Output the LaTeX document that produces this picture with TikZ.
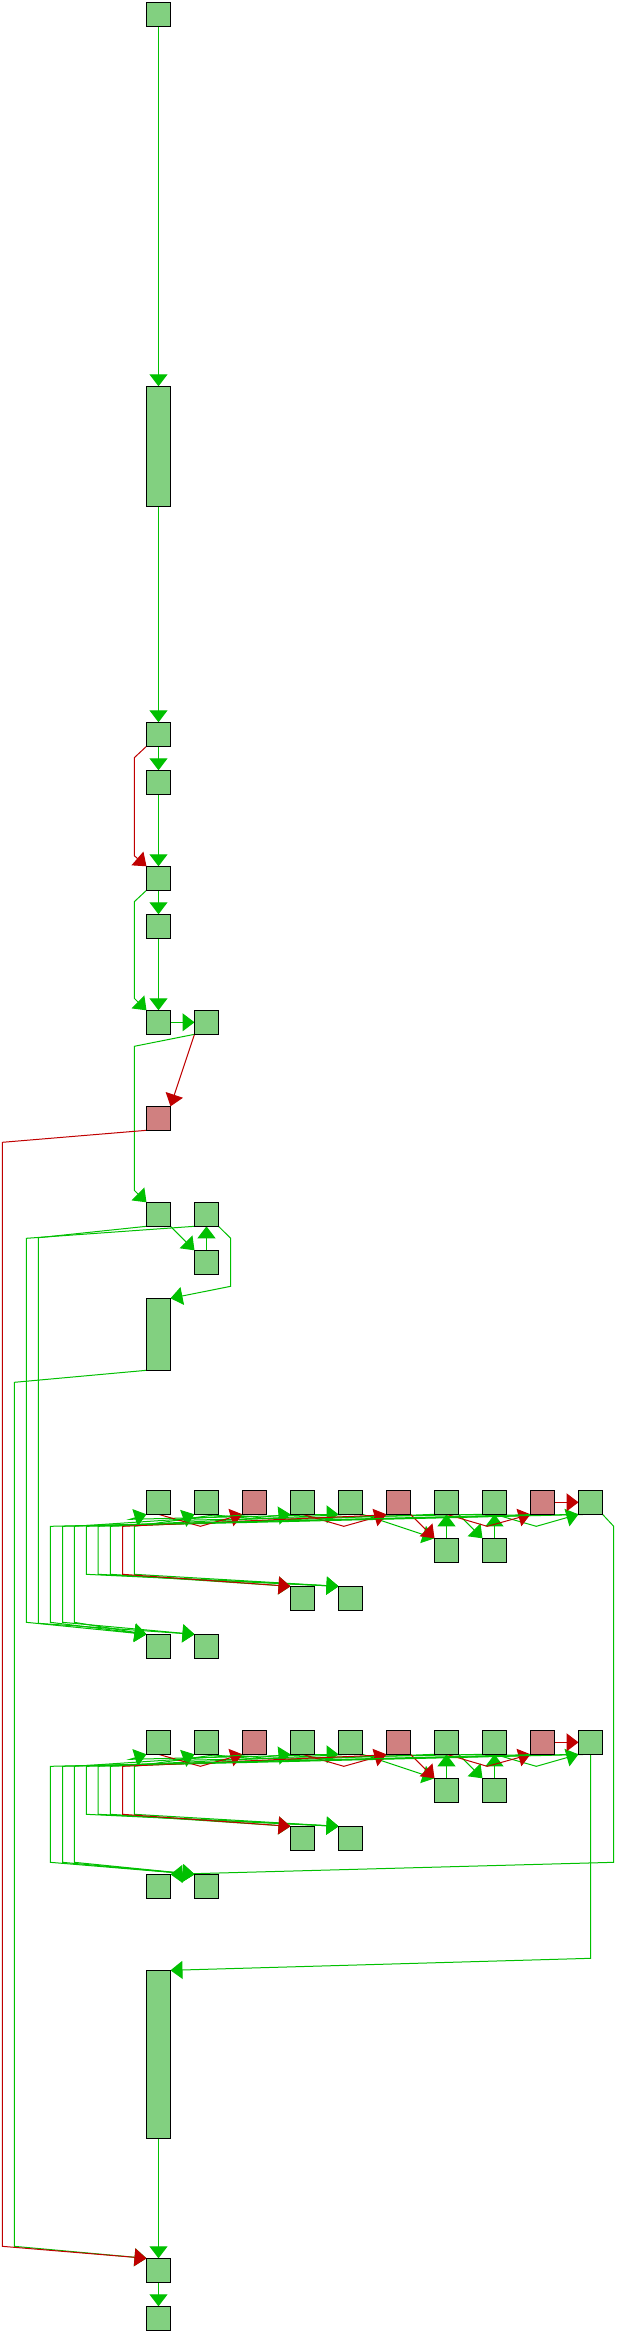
\documentclass[tikz,border=0pt]{standalone}
\usetikzlibrary{arrows.meta}
\definecolor{gfill}{RGB}{130,208,128}
\definecolor{pfill}{RGB}{208,128,128}
\definecolor{gline}{RGB}{0,192,0}
\definecolor{rline}{RGB}{192,0,0}
\pgfdeclarelayer{bg}
\pgfsetlayers{bg,main}
\tikzset{
  box/.style={draw=black, line width=1pt, fill=gfill, minimum width=24pt, minimum height=24pt, inner sep=0pt, outer sep=0pt, anchor=north west},
  pbox/.style={box, fill=pfill},
  ge/.style={draw=gline, line width=1pt, -{Triangle[width=18pt,length=12pt]}},
  re/.style={draw=rline, line width=1pt, -{Triangle[width=18pt,length=12pt]}},
}
\newcommand\rowblk[2]{%
  \node[box]  (#10) at (146.5,#2) {};
  \node[box]  (#11) at (194.5,#2) {};
  \node[pbox] (#12) at (242.5,#2) {};
  \node[box]  (#13) at (290.5,#2) {};
  \node[box]  (#14) at (338.5,#2) {};
  \node[pbox] (#15) at (386.5,#2) {};
  \node[box]  (#16) at (434.5,#2) {};
  \node[box]  (#17) at (482.5,#2) {};
  \node[pbox] (#18) at (530.5,#2) {};
  \node[box]  (#19) at (578.5,#2) {};
  \node[box]  (#1S0) at (434.5,{#2+48}) {};
  \node[box]  (#1S1) at (482.5,{#2+48}) {};
  \node[box]  (#1M0) at (290.5,{#2+96}) {};
  \node[box]  (#1M1) at (338.5,{#2+96}) {};
  \node[box]  (#1L0) at (146.5,{#2+144}) {};
  \node[box]  (#1L1) at (194.5,{#2+144}) {};
  \begin{pgfonlayer}{bg}
  \draw[ge] (#11.south) -- (250,{#2+28}) -- (#13.south west);
  \draw[ge] (#13.south) -- (#14.south west);
  \draw[ge] (#14.south east) -- (#1S0.north west);
  \draw[ge] (#1S0.north) -- (#16.south);
  \draw[ge] (#16.south east) -- (#1S1.north west);
  \draw[ge] (#1S1.north) -- (#17.south);
  \draw[ge] (#17.south) -- (536.3,{#2+36}) -- (#19.south west);
  \draw[ge] (#14.south west) -- (130,{#2+29}) -- (#10.south west);
  \draw[ge] (#17.south west) -- (178,{#2+30}) -- (#11.south west);
  \draw[ge] (#19.south) -- (86.4,{#2+36}) -- (86.4,{#2+84}) -- (#1M1.north west);
  \draw[ge] (#14.south) -- (98.2,{#2+36}) -- (98.2,{#2+84}) -- (#1M1.north west);
  \draw[ge] (#16.south west) -- (110.4,{#2+36}) -- (110.4,{#2+84}) -- (#1M0.north west);
  \draw[ge] (#11.south east) -- (134.4,{#2+36}) -- (134.4,{#2+84}) -- (#1M1.north west);
  \draw[re] (#10.south) -- (200.4,{#2+36}) -- (#12.south west);
  \draw[re] (#13.south) -- (343.8,{#2+36}) -- (#15.south west);
  \draw[re] (#15.south east) -- (#1S0.north west);
  \draw[re] (#16.south) -- (487.2,{#2+36}) -- (#18.south west);
  \draw[re] (#18.east) -- (#19.west);
  \draw[re] (#15.south) -- (122.6,{#2+36}) -- (122.6,{#2+84}) -- (#1M0.north west);
  \end{pgfonlayer}
}
\begin{document}
\begin{tikzpicture}[x=1pt,y=-1pt]
\begin{pgfonlayer}{bg}
\fill[white] (0,0) rectangle (616,2332);
\end{pgfonlayer}
\useasboundingbox (0,0) rectangle (616,2332);
% upper chain
\node[box] (n1) at (146.5,2.5) {};
\node[box, minimum height=120pt] (n2) at (146.5,386.3) {};
\node[box] (n3) at (146.5,722.3) {};
\node[box] (n4) at (146.5,770.3) {};
\node[box] (n5) at (146.5,866.3) {};
\node[box] (n6) at (146.5,914.3) {};
\node[box] (n7) at (146.5,1010.3) {};
\node[box] (n8) at (194.5,1010.3) {};
\node[pbox] (n9) at (146.5,1106.3) {};
\node[box] (n10) at (146.5,1202.3) {};
\node[box] (n11) at (194.5,1202.3) {};
\node[box] (n12) at (194.5,1250.3) {};
\node[box, minimum height=72pt] (n13) at (146.5,1298.3) {};
% rows
\rowblk{A}{1490.3}
\rowblk{B}{1730.3}
% lower part
\node[box, minimum height=168pt] (t3) at (146.5,1970.3) {};
\node[box] (z1) at (146.5,2258.3) {};
\node[box] (z2) at (146.5,2306.3) {};
\begin{pgfonlayer}{bg}
\draw[ge] (n1.south) -- (n2.north);
\draw[ge] (n2.south) -- (n3.north);
\draw[ge] (n3.south) -- (n4.north);
\draw[ge] (n4.south) -- (n5.north);
\draw[ge] (n5.south) -- (n6.north);
\draw[ge] (n5.south west) -- (134.3,901.7) -- (134.3,998.3) -- (n7.north west);
\draw[ge] (n6.south) -- (n7.north);
\draw[ge] (n7.east) -- (n8.west);
\draw[ge] (n8.south west) -- (134.3,1046.3) -- (134.3,1190.3) -- (n10.north west);
\draw[ge] (n10.south east) -- (n12.north west);
\draw[ge] (n12.north) -- (n11.south);
\draw[ge] (n11.south east) -- (230.7,1238.3) -- (230.7,1286.3) -- (n13.north east);
\draw[ge] (n11.south west) -- (26.3,1238.3) -- (26.3,1622.3) -- (AL0.north west);
\draw[ge] (n10.south west) -- (38.3,1237.7) -- (38.3,1623.3) -- (AL1.north west);
\draw[ge] (n13.south west) -- (14.3,1382.3) -- (14.3,2246.3) -- (z1.north west);
% row A lower loops
\draw[ge] (A9.south west) -- (50.3,1526.3) -- (50.3,1622.3) -- (AL0.north west);
\draw[ge] (A8.south) -- (62.5,1526.3) -- (62.5,1622.3) -- (AL1.north west);
\draw[ge] (A2.south) -- (74.3,1526.3) -- (74.3,1622.3) -- (AL0.north west);
% row B lower loops
\draw[ge] (B9.south west) -- (50.3,1766.3) -- (50.3,1862.3) -- (BL1.north west);
\draw[ge] (B8.south) -- (62.5,1766.3) -- (62.5,1862.3) -- (BL1.north west);
\draw[ge] (B2.south) -- (74.3,1766.3) -- (74.3,1862.3) -- (BL1.north west);
\draw[ge] (A9.south east) -- (613.7,1526.3) -- (613.7,1862.3) -- (BL0.north east);
\draw[ge] (B9.south) -- (590.5,1958.3) -- (t3.north east);
\draw[ge] (t3.south) -- (z1.north);
\draw[ge] (z1.south) -- (z2.north);
% red
\draw[re] (n3.south west) -- (134.3,757.7) -- (134.3,855.7) -- (n5.north west);
\draw[re] (n8.south west) -- (n9.north east);
\draw[re] (n9.south west) -- (2.3,1142.3) -- (2.3,2246.3) -- (z1.north west);
\end{pgfonlayer}
\end{tikzpicture}
\end{document}
